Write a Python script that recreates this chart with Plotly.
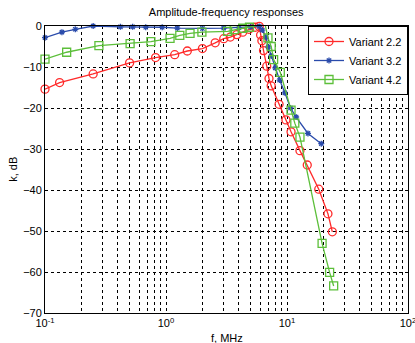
import plotly.graph_objects as go

# Variant 2.2
f_22 = [0.1, 0.132, 0.25, 0.5, 0.82, 1.18, 1.5, 2.0, 2.55, 3.0, 3.4, 3.85, 4.3, 4.85, 5.45, 5.9,
        6.05, 6.2, 6.4, 6.8, 7.1, 7.4, 8.6, 9.8, 10.8, 12.8, 14.7, 18.3, 21.8, 23.7]
k_22 = [-15.4, -13.8, -11.7, -9.0, -7.7, -7.0, -6.1, -5.5, -4.1, -3.1, -2.7, -2.1, -1.5, -0.8, -0.3, -0.1,
        -2.2, -3.6, -6.0, -9.8, -12.8, -14.6, -19.1, -22.9, -25.8, -30.4, -33.9, -39.8, -45.8, -50.2]

# Variant 3.2
f_32 = [0.1, 0.138, 0.178, 0.25, 0.42, 0.53, 0.68, 0.93, 1.24, 2.0, 3.0, 4.0, 5.0, 5.9,
        6.25, 6.7, 7.0, 7.4, 8.0, 8.7, 9.6, 10.7, 11.9, 14.9, 19.2]
k_32 = [-2.85, -1.5, -0.8, 0.0, -0.2, -0.2, -0.3, -0.3, -0.5, -0.6, -0.5, -0.4, -0.2, -0.1,
        -1.0, -2.7, -5.1, -7.3, -10.2, -13.2, -16.3, -20.0, -22.2, -26.2, -28.7]

# Variant 4.2
f_42 = [0.1, 0.151, 0.279, 0.505, 0.75, 1.08, 1.3, 1.58, 1.98, 3.23, 3.66, 4.3, 4.9, 5.6, 6.6,
        6.96, 7.4, 7.75, 8.8, 10.8, 11.6, 12.8, 19.5, 22.5, 24.3]
k_42 = [-8.1, -6.4, -4.8, -4.3, -3.8, -3.0, -2.3, -1.8, -1.5, -1.3, -0.9, -0.55, -0.3, 0.1, 0.3,
        -2.9, -5.0, -8.2, -11.3, -20.5, -23.7, -27.1, -53.0, -60.1, -63.4]

x_major = [0.1, 1, 10, 100]
x_major_text = ["10<sup>-1</sup>", "10<sup>0</sup>", "10<sup>1</sup>", "10<sup>2</sup>"]
y_ticks = [0, -10, -20, -30, -40, -50, -60, -70]

xt, xtt = [], []
for d in [0.1, 1, 10]:
    for m in range(1, 10):
        xt.append(d * m)
        xtt.append(x_major_text[x_major.index(d)] if m == 1 else " ")
xt.append(100)
xtt.append(x_major_text[-1])

fig = go.Figure()
fig.add_trace(go.Scatter(x=f_22, y=k_22, mode="lines+markers", name="Variant 2.2",
                         line=dict(color="#ff2a2a", width=1.3),
                         marker=dict(symbol="circle-open", size=8, color="#ff2a2a", line=dict(width=1.3)),
                         cliponaxis=False))
fig.add_trace(go.Scatter(x=f_32, y=k_32, mode="lines+markers", name="Variant 3.2",
                         line=dict(color="#2a4bab", width=1.3),
                         marker=dict(symbol="asterisk-open", size=5, color="#2a4bab", line=dict(width=1.3)),
                         cliponaxis=False))
fig.add_trace(go.Scatter(x=f_42, y=k_42, mode="lines+markers", name="Variant 4.2",
                         line=dict(color="#5cbf3a", width=1.3),
                         marker=dict(symbol="square-open", size=8, color="#5cbf3a", line=dict(width=1.3)),
                         cliponaxis=False))

fig.update_layout(
    width=415, height=343,
    margin=dict(l=45, r=7, t=26, b=30),
    paper_bgcolor="white", plot_bgcolor="white",
    font=dict(family="Liberation Sans, Arial, sans-serif", size=11, color="black"),
    title=dict(text="Amplitude-frequency responses", x=0.545, xanchor="center", y=0.965, yanchor="middle",
               font=dict(size=11)),
    showlegend=True,
    legend=dict(x=1, xanchor="right", y=1, yanchor="top", bgcolor="white",
                bordercolor="black", borderwidth=1, font=dict(size=11),
                tracegroupgap=0, itemwidth=30),
    xaxis=dict(type="log", range=[-1, 2], tickmode="array", tickvals=xt, ticktext=xtt,
               tickangle=0, ticklabeloverflow="allow", automargin=False,
               showgrid=True, gridcolor="black", gridwidth=1, griddash="3px,3px",
               showline=True, linecolor="black", linewidth=1, mirror=True,
               ticks="", zeroline=False),
    yaxis=dict(range=[-70, 0], tickmode="array", tickvals=y_ticks, automargin=False,
               showgrid=True, gridcolor="black", gridwidth=1, griddash="3px,3px",
               showline=True, linecolor="black", linewidth=1, mirror=True,
               ticks="", zeroline=False),
    annotations=[
        dict(text="k, dB", x=-0.09, y=0.5, xref="paper", yref="paper", xanchor="center", yanchor="middle",
             showarrow=False, textangle=-90, font=dict(size=11)),
        dict(text="f, MHz", x=0.5, y=-0.06, xref="paper", yref="paper", yanchor="top",
             showarrow=False, font=dict(size=11)),
    ],
)

fig.write_html("out.html")
